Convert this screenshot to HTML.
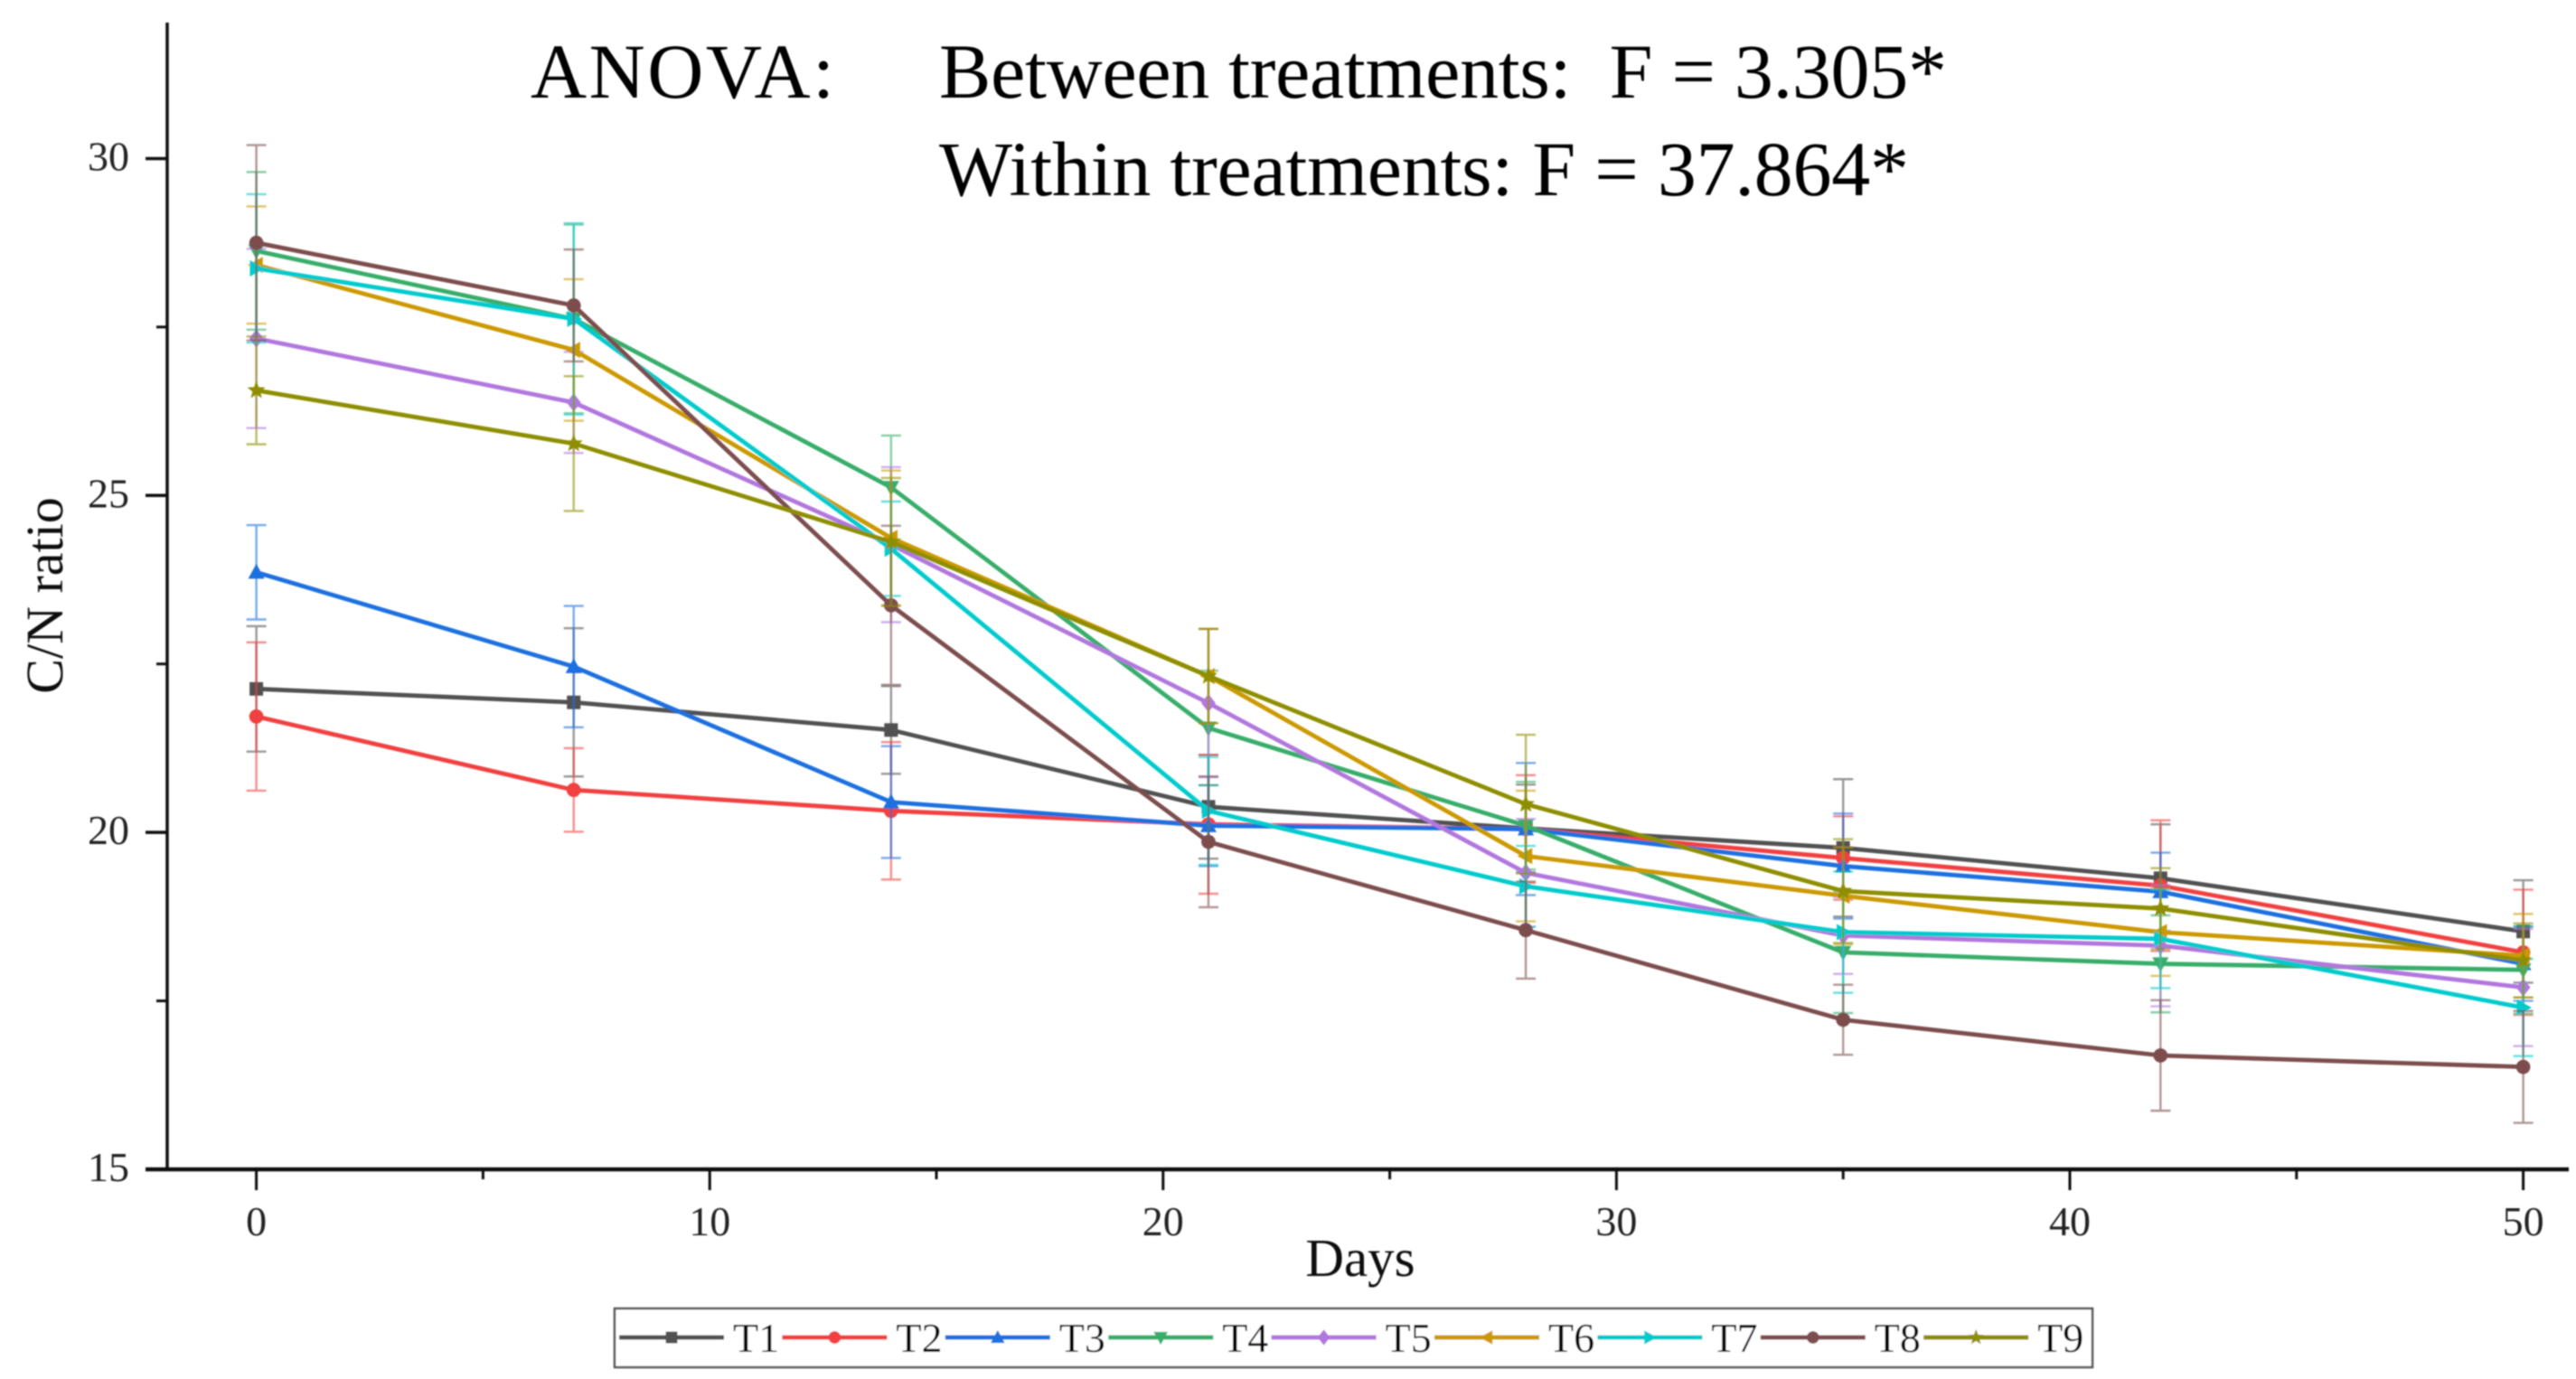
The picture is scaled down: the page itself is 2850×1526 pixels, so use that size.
<!DOCTYPE html>
<html>
<head>
<meta charset="utf-8">
<title>C/N ratio over days</title>
<style>
html,body{margin:0;padding:0;background:#fff;}
svg{display:block;}
text{font-family:"Liberation Serif",serif;}
</style>
</head>
<body>
<svg id="chart" xmlns="http://www.w3.org/2000/svg" width="2850" height="1526" viewBox="0 0 2850 1526">
  <defs><filter id="soft" x="0" y="0" width="100%" height="100%" filterUnits="userSpaceOnUse" primitiveUnits="userSpaceOnUse"><feGaussianBlur stdDeviation="0.9"/></filter></defs>
  <rect width="2850" height="1526" fill="#fff"/>
  <g id="root" filter="url(#soft)">
    <text x="587" y="108" font-size="86" textLength="336" fill="#000">ANOVA:</text>
    <text x="1039" y="108" font-size="86" textLength="1115" xml:space="preserve" fill="#000">Between treatments:  F = 3.305*</text>
    <text x="1039" y="216" font-size="86" textLength="1073" fill="#000">Within treatments: F = 37.864*</text>
    <text x="1505" y="1412" font-size="59" text-anchor="middle" fill="#111">Days</text>
    <text transform="translate(69,659) rotate(-90)" font-size="58" text-anchor="middle" fill="#111">C/N ratio</text>
    <g id="axes"></g>
    <g id="marks"></g>
    <g id="legend"></g>
  </g>
</svg>
<script>
const days = [0, 7, 14, 21, 28, 35, 42, 50];
const xTicks = [0, 10, 20, 30, 40, 50];
const xMinorTicks = [5, 15, 25, 35, 45];
const yTicks = [15, 20, 25, 30];
const yMinorTicks = [17.5, 22.5, 27.5];
const seriesNames = ['T1', 'T2', 'T3', 'T4', 'T5', 'T6', 'T7', 'T8', 'T9'];
const seriesColors = ['#515151', '#F14040', '#1A6FDF', '#37AD6B', '#B177DE', '#CC9900', '#00CBCC', '#7D4E4E', '#8E8E00'];

const t1 = [22.13, 21.93, 21.52, 20.38, 20.06, 19.77, 19.32, 18.53];
const t2 = [21.72, 20.63, 20.32, 20.12, 20.05, 19.62, 19.21, 18.22];
const t3 = [23.86, 22.46, 20.45, 20.1, 20.05, 19.5, 19.12, 18.05];
const t4 = [28.63, 27.62, 25.12, 21.55, 20.1, 18.22, 18.05, 17.96];
const t5 = [27.33, 26.38, 24.27, 21.92, 19.4, 18.47, 18.32, 17.7];
const t6 = [28.42, 27.16, 24.37, 22.32, 19.65, 19.06, 18.52, 18.17];
const t7 = [28.37, 27.62, 24.21, 20.32, 19.2, 18.52, 18.42, 17.4];
const t8 = [28.75, 27.82, 23.37, 19.86, 18.55, 17.22, 16.69, 16.52];
const t9 = [26.56, 25.77, 24.31, 22.32, 20.42, 19.13, 18.87, 18.1];

const e1 = [0.93, 1.1, 0.65, 0.77, 0.65, 1.02, 0.8, 0.76];
const e2 = [1.1, 0.62, 1.02, 1.03, 0.8, 0.62, 0.97, 0.93];
const e3 = [0.7, 0.9, 0.83, 0.6, 0.98, 0.78, 0.58, 0.55];
const e4 = [1.17, 1.4, 0.77, 0.85, 0.65, 0.9, 0.72, 0.65];
const e5 = [1.33, 0.75, 1.15, 1.1, 0.8, 0.57, 0.9, 0.87];
const e6 = [0.87, 1.05, 1.0, 0.7, 0.97, 0.72, 0.65, 0.62];
const e7 = [1.1, 1.42, 0.7, 0.8, 0.6, 0.9, 0.73, 0.72];
const e8 = [1.45, 0.83, 1.18, 0.97, 0.72, 0.52, 0.82, 0.83];
const e9 = [0.8, 1.0, 0.95, 0.7, 1.03, 0.77, 0.6, 0.55];

const seriesValues = [t1, t2, t3, t4, t5, t6, t7, t8, t9];
const seriesErrors = [e1, e2, e3, e4, e5, e6, e7, e8, e9];

const SVG_NS = 'http://www.w3.org/2000/svg';
function xPos(d) { return 283.6 + 50.16 * d; }
function yPos(v) { return 1294 - (v - 15) * 74.57; }

function make(parent, tag, attrs, text) {
  const el = document.createElementNS(SVG_NS, tag);
  for (const k in attrs) el.setAttribute(k, attrs[k]);
  if (text !== undefined) el.textContent = text;
  parent.appendChild(el);
  return el;
}

function markerShape(parent, index, cx, cy, r, color) {
  const poly = pts => make(parent, 'polygon', {
    points: pts.map(p => (cx + p[0] * r) + ',' + (cy + p[1] * r)).join(' '), fill: color
  });
  switch (index) {
    case 0: return make(parent, 'rect', {x: cx - r, y: cy - r, width: 2 * r, height: 2 * r, fill: color});
    case 1:
    case 7: return make(parent, 'circle', {cx: cx, cy: cy, r: r * 1.05, fill: color});
    case 2: return poly([[0, -1.25], [1.2, 0.95], [-1.2, 0.95]]);
    case 3: return poly([[0, 1.25], [1.2, -0.95], [-1.2, -0.95]]);
    case 4: return poly([[0, -1.35], [1.05, 0], [0, 1.35], [-1.05, 0]]);
    case 5: return poly([[-1.25, 0], [0.95, -1.2], [0.95, 1.2]]);
    case 6: return poly([[1.25, 0], [-0.95, -1.2], [-0.95, 1.2]]);
    default: {
      const pts = [];
      for (let k = 0; k < 10; k++) {
        const rad = k % 2 === 0 ? 1.4 : 0.6;
        const ang = -Math.PI / 2 + k * Math.PI / 5;
        pts.push([rad * Math.cos(ang), rad * Math.sin(ang)]);
      }
      return poly(pts);
    }
  }
}

/* axes */
const axes = document.getElementById('axes');
const INK = '#111';
const yAxisLine = make(axes, 'line', {x1: 185, x2: 185, y1: 25, y2: 1296, stroke: INK, 'stroke-width': 3.5});


const xAxisLine = make(axes, 'line', {x1: 161, x2: 2842, y1: 1294, y2: 1294, stroke: INK, 'stroke-width': 4.5});



xTicks.forEach(t => {
  const tick = make(axes, 'line', {x1: xPos(t), x2: xPos(t), y1: 1294, y2: 1317, stroke: INK, 'stroke-width': 3});
  
  
  const label = make(axes, 'text', {x: xPos(t), y: 1367, 'font-size': 46, 'text-anchor': 'middle', fill: '#222'}, String(t));
  
  
});
xMinorTicks.forEach(t => {
  const tick = make(axes, 'line', {x1: xPos(t), x2: xPos(t), y1: 1294, y2: 1305, stroke: INK, 'stroke-width': 3});
  
  
});
yTicks.forEach(t => {
  const tick = make(axes, 'line', {x1: 161, x2: 185, y1: yPos(t), y2: yPos(t), stroke: INK, 'stroke-width': 3.5});
  
  
  const label = make(axes, 'text', {x: 143, y: yPos(t) + 13, 'font-size': 46, 'text-anchor': 'end', fill: '#222'}, String(t));
  
  
});
yMinorTicks.forEach(t => {
  const tick = make(axes, 'line', {x1: 173, x2: 185, y1: yPos(t), y2: yPos(t), stroke: INK, 'stroke-width': 3});
  
  
});

/* series */
const marks = document.getElementById('marks');
seriesNames.forEach((name, i) => {
  const color = seriesColors[i];
  const values = seriesValues[i];
  const errors = seriesErrors[i];
  const group = make(marks, 'g', {});
  
  

  days.forEach((d, j) => {
    const hi = yPos(values[j] + errors[j]);
    const lo = yPos(values[j] - errors[j]);
    const x = xPos(d);
    const bar = make(group, 'path', {
      d: 'M' + x + ' ' + hi + 'V' + lo +
         'M' + (x - 11) + ' ' + hi + 'H' + (x + 11) +
         'M' + (x - 11) + ' ' + lo + 'H' + (x + 11),
      fill: 'none', stroke: color, 'stroke-width': 2.4, 'stroke-opacity': 0.6
    });
    
    
  });

  const line = make(group, 'polyline', {
    points: days.map((d, j) => xPos(d) + ',' + yPos(values[j])).join(' '),
    fill: 'none', stroke: color, 'stroke-width': 4.8, 'stroke-linejoin': 'round'
  });
  
  

  days.forEach((d, j) => {
    const pt = markerShape(group, i, xPos(d), yPos(values[j]), 7.5, color);
    
    
  });
});

/* legend */
const legend = document.getElementById('legend');
const legendBox = make(legend, 'rect', {x: 680, y: 1448, width: 1635, height: 65, fill: '#fff', stroke: '#555', 'stroke-width': 2.5});


seriesNames.forEach((name, i) => {
  const x0 = 685 + i * 180.4;
  const entry = make(legend, 'g', {});
  
  
  make(entry, 'line', {x1: x0, x2: x0 + 116, y1: 1480, y2: 1480, stroke: seriesColors[i], 'stroke-width': 5});
  markerShape(entry, i, x0 + 58, 1480, 6.5, seriesColors[i]);
  make(entry, 'text', {x: x0 + 126, y: 1496, 'font-size': 46, fill: '#000'}, name);
});
</script>
</body>
</html>
